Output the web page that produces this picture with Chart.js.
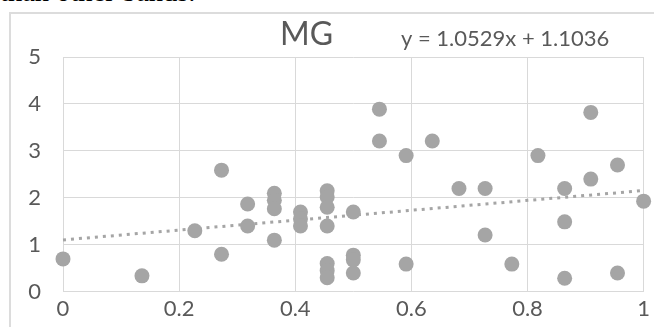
<!DOCTYPE html>
<html>
<head>
<meta charset="utf-8">
<script src="https://cdn.jsdelivr.net/npm/chart.js@4.4.1/dist/chart.umd.min.js"></script>
<style>
  html, body { margin: 0; padding: 0; background: #ffffff; }
  body { width: 654px; height: 327px; position: relative; overflow: hidden; }
  #doc { position: absolute; left: 0px; top: -24px; font-family: "Liberation Serif", "Times New Roman", serif; font-size: 28.5px; line-height: 32px; color: #000; white-space: nowrap; }
  #frame { position: absolute; left: 9px; top: 12px; width: 720px; height: 400px; border: 2px solid #dcdcdc; box-sizing: border-box; }
  #wrap { position: absolute; left: 0; top: 0; width: 654px; height: 327px; }
</style>
</head>
<body>
<div id="doc">than other bands.</div>
<div id="frame"></div>
<div id="wrap"><canvas id="c" width="654" height="327"></canvas></div>
<script>
// ---- data ----
const chartTitle = 'MG';
const trendLabel = 'y = 1.0529x + 1.1036';
const trendSlope = 1.0529;
const trendIntercept = 1.1036;

const xValues = [
  0, 0.136, 0.227, 0.273, 0.273, 0.318, 0.318,
  0.364, 0.364, 0.364, 0.364,
  0.409, 0.409, 0.409,
  0.455, 0.455, 0.455, 0.455, 0.455, 0.455, 0.455,
  0.5, 0.5, 0.5, 0.5,
  0.545, 0.545, 0.591, 0.591, 0.636, 0.682, 0.727, 0.727, 0.773, 0.818,
  0.864, 0.864, 0.864, 0.909, 0.909, 0.955, 0.955, 1.0
];
const yValues = [
  0.70, 0.34, 1.30, 2.59, 0.80, 1.87, 1.40,
  2.10, 1.95, 1.77, 1.10,
  1.70, 1.55, 1.40,
  2.15, 2.02, 1.80, 1.40, 0.60, 0.45, 0.30,
  1.70, 0.78, 0.68, 0.40,
  3.89, 3.21, 2.90, 0.59, 3.21, 2.20, 2.20, 1.21, 0.59, 2.90,
  2.20, 1.49, 0.29, 3.82, 2.40, 2.70, 0.40, 1.93
];
const xTickLabels = ['0', '0.2', '0.4', '0.6', '0.8', '1'];
const yTickLabels = ['0', '1', '2', '3', '4', '5'];
const trendX = [0, 1];

// ---- build datasets ----
const points = xValues.map((x, i) => ({ x: x, y: yValues[i] }));
const trendPoints = trendX.map(x => ({ x: x, y: trendSlope * x + trendIntercept }));

const textColor = '#595959';
const gridColor = '#d9d9d9';
const markColor = '#a5a5a5';
const fontFamily = 'Lato, Carlito, "Open Sans", sans-serif';

const headerPlugin = {
  id: 'header',
  afterDraw(chart) {
    const ctx = chart.ctx;
    ctx.save();
    ctx.fillStyle = textColor;
    ctx.textAlign = 'left';
    ctx.textBaseline = 'alphabetic';
    ctx.font = '32px ' + fontFamily;
    ctx.fillText(chartTitle, 280, 45);
    ctx.font = '22px ' + fontFamily;
    ctx.fillText(trendLabel, 401, 46);
    ctx.restore();
  }
};

new Chart(document.getElementById('c'), {
  type: 'scatter',
  data: {
    datasets: [
      {
        label: 'Trend',
        type: 'line',
        data: trendPoints,
        borderColor: markColor,
        borderWidth: 3,
        borderDash: [3, 5],
        pointRadius: 0,
        fill: false,
        clip: false,
        order: 2
      },
      {
        label: chartTitle,
        data: points,
        backgroundColor: markColor,
        borderWidth: 0,
        pointRadius: 7.5,
        pointHoverRadius: 7.5,
        clip: false,
        order: 1
      }
    ]
  },
  options: {
    responsive: false,
    animation: false,
    events: [],
    layout: { padding: { top: 57, right: 10, left: 0, bottom: 0 } },
    plugins: {
      legend: { display: false },
      title: { display: false },
      tooltip: { enabled: false }
    },
    scales: {
      x: {
        type: 'linear',
        min: 0, max: 1,
        afterFit(scale) { scale.height = 33; },
        border: { display: false },
        grid: { color: gridColor, lineWidth: 1, drawTicks: false },
        ticks: {
          stepSize: 0.2,
          padding: 4,
          color: textColor,
          font: { family: fontFamily, size: 22 },
          maxRotation: 0,
          callback: (v, i) => xTickLabels[i]
        }
      },
      y: {
        type: 'linear',
        min: 0, max: 5,
        afterFit(scale) { scale.width = 63; },
        border: { display: false },
        grid: { color: gridColor, lineWidth: 1, drawTicks: false },
        ticks: {
          stepSize: 1,
          padding: 22,
          color: textColor,
          font: { family: fontFamily, size: 22 },
          callback: (v, i) => yTickLabels[i]
        }
      }
    }
  },
  plugins: [headerPlugin]
});
</script>
</body>
</html>
